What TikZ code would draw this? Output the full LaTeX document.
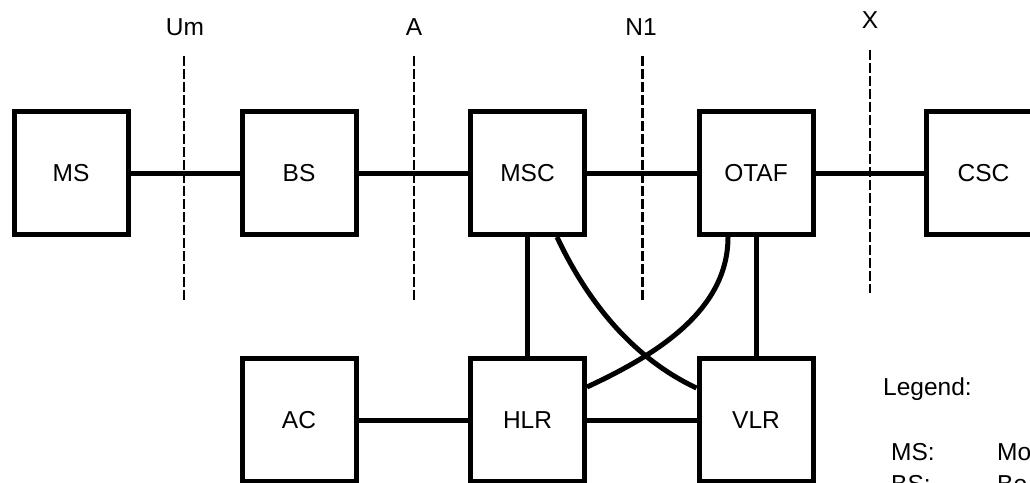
\documentclass[tikz,border=0pt]{standalone}
\usepackage{fontspec}
\setmainfont{Liberation Sans}
\newcommand\lblfont{\fontsize{24.5}{29}\selectfont}
\begin{document}
\begin{tikzpicture}[x=1pt,y=-1pt,
  box/.style={draw=black,fill=white,line width=5pt,minimum width=114pt,minimum height=123pt,inner sep=0pt,font=\lblfont},
  link/.style={line width=5pt},
  iface/.style={line width=1.8pt,dash pattern=on 10pt off 3pt},
  lab/.style={font=\lblfont,anchor=base,inner sep=0pt},
  leg/.style={font=\lblfont,anchor=base west,inner sep=0pt}]
\useasboundingbox (0,0) rectangle (1030,482);
\clip (0,0) rectangle (1030,482);

% interface reference lines
\coordinate (umT) at (184,56);  \coordinate (umB) at (184,300);
\coordinate (aT)  at (414,56);  \coordinate (aB)  at (414,300);
\coordinate (nT)  at (642,56);  \coordinate (nB)  at (642,300);
\coordinate (xT)  at (870,50);  \coordinate (xB)  at (870,293);
\draw[iface] (umT) -- (umB);
\draw[iface] (aT) -- (aB);
\draw[iface,line width=3pt] (nT) -- (nB);
\draw[iface] (xT) -- (xB);
\node[lab] (lUm) at (185,35) {Um};
\node[lab] (lA)  at (414,35) {A};
\node[lab] (lN1) at (641,35) {N1};
\node[lab] (lX)  at (870,28) {X};

% boxes
\node[box] (MS)   at (71,173)    {MS};
\node[box] (BS)   at (299,173)   {BS};
\node[box] (MSC)  at (527.5,173) {MSC};
\node[box] (OTAF) at (756,173)   {OTAF};
\node[box] (CSC)  at (983.5,173) {CSC};
\node[box] (AC)   at (299,420)   {AC};
\node[box] (HLR)  at (527.5,420) {HLR};
\node[box] (VLR)  at (756,420)   {VLR};

% connectors
\draw[link] (MS) -- (BS);
\draw[link] (BS) -- (MSC);
\draw[link] (MSC) -- (OTAF);
\draw[link] (OTAF) -- (CSC);
\draw[link] (AC) -- (HLR);
\draw[link] (HLR) -- (VLR);
\draw[link] (MSC) -- (HLR);
\draw[link] (OTAF) -- (VLR);
\draw[link] ([xshift=29.5pt]MSC.south) .. controls +(30,64) and +(-64,-30) .. ([yshift=32pt]VLR.west);
\draw[link] ([xshift=-28pt]OTAF.south) .. controls +(0,74.5) and +(67.5,-31.5) .. ([yshift=33pt]HLR.east);

% legend
\node[leg] (legend) at (883,395) {Legend:};
\node[leg] (kMS) at (891,460) {MS:};
\node[leg] (vMS) at (997,460) {Mo};
\node[leg] (kBS) at (891,492) {BS:};
\node[leg] (vBS) at (997,492) {Bo};
\end{tikzpicture}
\end{document}
